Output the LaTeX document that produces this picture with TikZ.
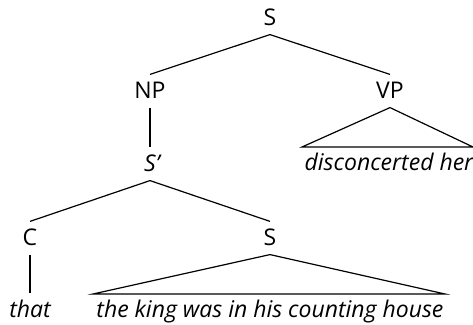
\documentclass[tikz,border=0pt]{standalone}
\usepackage{fontspec}
\setmainfont{Open Sans}
\usepackage{tikz}

\begin{document}
\begin{tikzpicture}[x=0.5pt,y=-0.5pt,line width=0.6pt,
  cat/.style={anchor=base,inner xsep=0pt,inner ysep=4pt,text height=8pt,text depth=0pt,font=\fontsize{11.5}{13}\selectfont},
  word/.style={cat,font=\fontsize{11.5}{13}\selectfont\itshape}]
\useasboundingbox(0,0)rectangle(473,325);
\node[cat](s)at(270,26){S};
\node[cat](np)at(150,99){NP};
\node[cat](vp)at(390,99){VP};
\node[word](sbar)at(150,172){S\rlap{\textquoteright}};
\node[cat](c)at(30,246){C};
\node[cat](s2)at(270,246){S};
\node[word](dis)at(389,171){disconcerted her};
\node[word](that)at(30,318){that};
\node[word](king)at(270,318){the king was in his counting house};
\coordinate(vpl)at(302,147);
\coordinate(vpr)at(473,147);
\coordinate(sl)at(93,294);
\coordinate(sr)at(445,294);
\draw(s.south)--(np.north)
(s.south)--(vp.north);
\draw(np.south)--(sbar.north);
\draw(vp.south)--(vpl)--(vpr)--cycle;
\draw(sbar.south)--(c.north)
(sbar.south)--(s2.north);
\draw(c.south)--(that.north);
\draw(s2.south)--(sl)--(sr)--cycle;
\end{tikzpicture}
\end{document}
